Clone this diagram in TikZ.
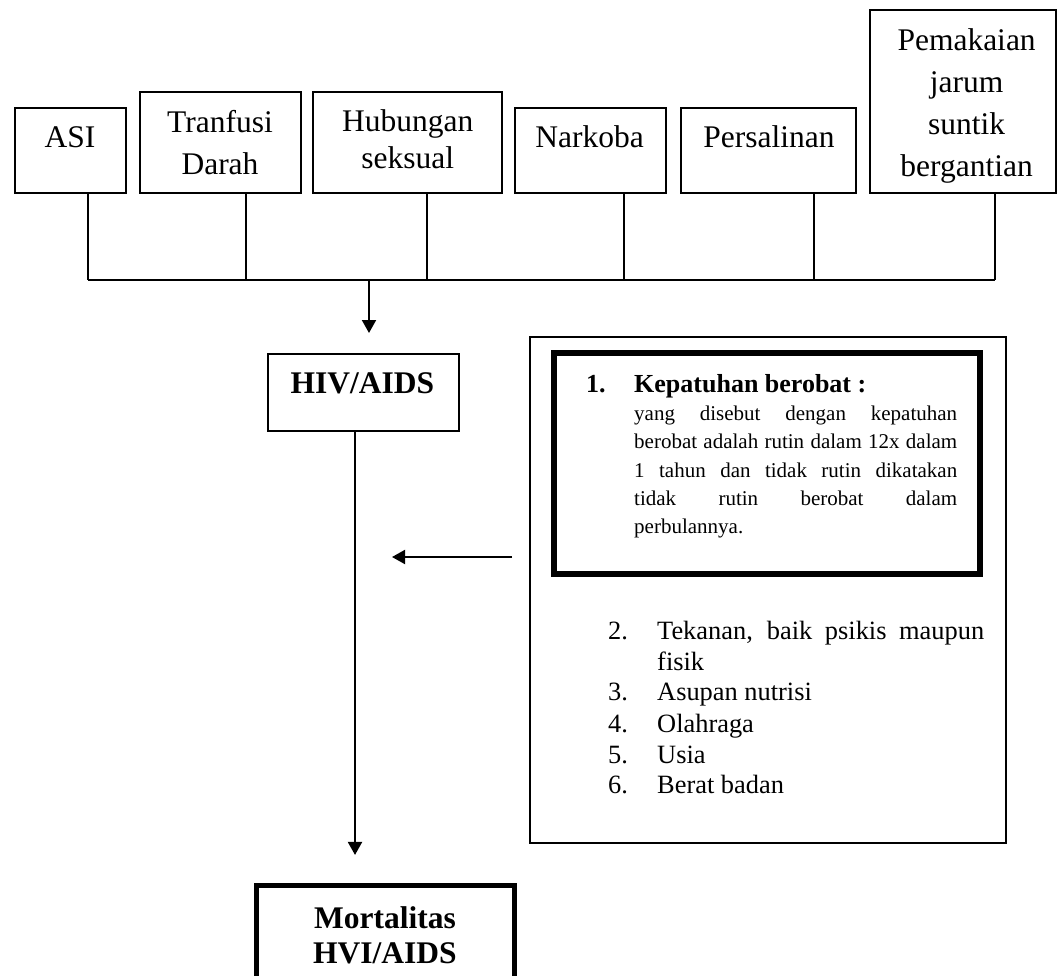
\documentclass[tikz,border=0pt]{standalone}
\usepackage{fontspec}
\setmainfont{Liberation Serif}
\usetikzlibrary{arrows.meta}
\begin{document}
\begin{tikzpicture}[x=1pt,y=-1pt,
  box/.style={draw, rectangle, line width=2pt, inner sep=0pt},
  conn/.style={line width=2pt},
  arr/.style={line width=2pt, -{Triangle[length=13pt,width=14pt]}},
  toptxt/.style={inner sep=0pt, anchor=base, font=\fontsize{31.5}{38}\selectfont},
  boldtxt/.style={inner sep=0pt, anchor=base, font=\fontsize{31.5}{38}\selectfont\bfseries},
  headtxt/.style={inner sep=0pt, anchor=base west, font=\fontsize{26}{30}\selectfont\bfseries},
  bodytxt/.style={inner sep=0pt, anchor=base west, font=\fontsize{21}{26}\selectfont},
  listtxt/.style={inner sep=0pt, anchor=base west, font=\fontsize{26.4}{31}\selectfont}]
\clip (0,0) rectangle (1059,976);
\fill[white] (0,0) rectangle (1059,976);

% top boxes
\node[box, minimum width=111.2pt, minimum height=85pt] (asi) at (70.1,150.5) {};
\node[box, minimum width=161.2pt, minimum height=101pt] (tra) at (220.1,142.5) {};
\node[box, minimum width=189pt, minimum height=101pt] (hub) at (407.5,142.5) {};
\node[box, minimum width=151.5pt, minimum height=85pt] (nar) at (590.25,150.5) {};
\node[box, minimum width=175pt, minimum height=85pt] (per) at (768.5,150.5) {};
\node[box, minimum width=186pt, minimum height=182.5pt] (pem) at (963,101.75) {};

\node[toptxt] (tasi) at (70,148) {ASI};
\node[toptxt] (ttra1) at (220,132.4) {Tranfusi};
\node[toptxt] (ttra2) at (220,175) {Darah};
\node[toptxt] (thub1) at (407.8,132) {Hubungan};
\node[toptxt] (thub2) at (407.8,169) {seksual};
\node[toptxt] (tnar) at (589.6,148) {Narkoba};
\node[toptxt] (tper) at (769,148) {Persalinan};
\node[toptxt] (tpem1) at (966.6,51) {Pemakaian};
\node[toptxt] (tpem2) at (966.6,93) {jarum};
\node[toptxt] (tpem3) at (966.6,135) {suntik};
\node[toptxt] (tpem4) at (966.6,177) {bergantian};

% bus
\coordinate (busL) at (87.5,280);
\coordinate (busR) at (995,280);
\coordinate (busM) at (369,280);
\draw[conn] ([xshift=17.4pt]asi.south) -- (busL);
\draw[conn] ([xshift=25.9pt]tra.south) -- ++(0,86);
\draw[conn] ([xshift=19.5pt]hub.south) -- ++(0,86);
\draw[conn] ([xshift=33.75pt]nar.south) -- ++(0,86);
\draw[conn] ([xshift=45.5pt]per.south) -- ++(0,86);
\draw[conn] ([xshift=32pt]pem.south) -- (busR);
\draw[conn] (busL) -- (busR);

% HIV/AIDS
\node[box, minimum width=191pt, minimum height=77pt] (hiv) at (363.5,392.5) {};
\node[boldtxt] (thiv) at (362.5,393) {HIV/AIDS};
\draw[arr] (busM) -- ([xshift=5.5pt,yshift=20pt]hiv.north);

% Mortalitas
\node[box, line width=5.3pt, minimum width=257.6pt, minimum height=124pt] (mort) at (385.5,947.6) {};
\node[boldtxt] (tmort1) at (385,928) {Mortalitas};
\node[boldtxt] (tmort2) at (385,963) {HVI/AIDS};
\draw[arr] ([xshift=-8.5pt]hiv.south) -- ([xshift=-30.5pt,yshift=28pt]mort.north);

% factor boxes
\node[draw, line width=1.7pt, inner sep=0pt, minimum width=476pt, minimum height=506pt] (outer) at (768,590) {};
\node[draw, line width=6.3pt, inner sep=0pt, minimum width=426pt, minimum height=221pt] (crit) at (767,463.5) {};

\coordinate (tipL) at (392,557);
\draw[arr] ([xshift=-17pt]outer.west |- tipL) -- (tipL);

\node[headtxt] (n1) at (586,392) {1.};
\node[headtxt] (k1) at (634,392) {Kepatuhan berobat :};
\node[bodytxt] (b1) at (634,420) {\makebox[323pt][s]{yang disebut dengan kepatuhan}};
\node[bodytxt] (b2) at (634,448) {\makebox[323pt][s]{berobat adalah rutin dalam 12x dalam}};
\node[bodytxt] (b3) at (634,477) {\makebox[323pt][s]{1 tahun dan tidak rutin dikatakan}};
\node[bodytxt] (b4) at (634,505) {\makebox[323pt][s]{tidak rutin berobat dalam}};
\node[bodytxt] (b5) at (634,533) {perbulannya.};

\node[listtxt] (n2) at (608,639) {2.};
\node[listtxt] (l2) at (657,639) {\makebox[327pt][s]{Tekanan, baik psikis maupun}};
\node[listtxt] (l2b) at (657,670) {fisik};
\node[listtxt] (n3) at (608,700) {3.};
\node[listtxt] (l3) at (657,700) {Asupan nutrisi};
\node[listtxt] (n4) at (608,732) {4.};
\node[listtxt] (l4) at (657,732) {Olahraga};
\node[listtxt] (n5) at (608,763) {5.};
\node[listtxt] (l5) at (657,763) {Usia};
\node[listtxt] (n6) at (608,793) {6.};
\node[listtxt] (l6) at (657,793) {Berat badan};
\end{tikzpicture}
\end{document}
